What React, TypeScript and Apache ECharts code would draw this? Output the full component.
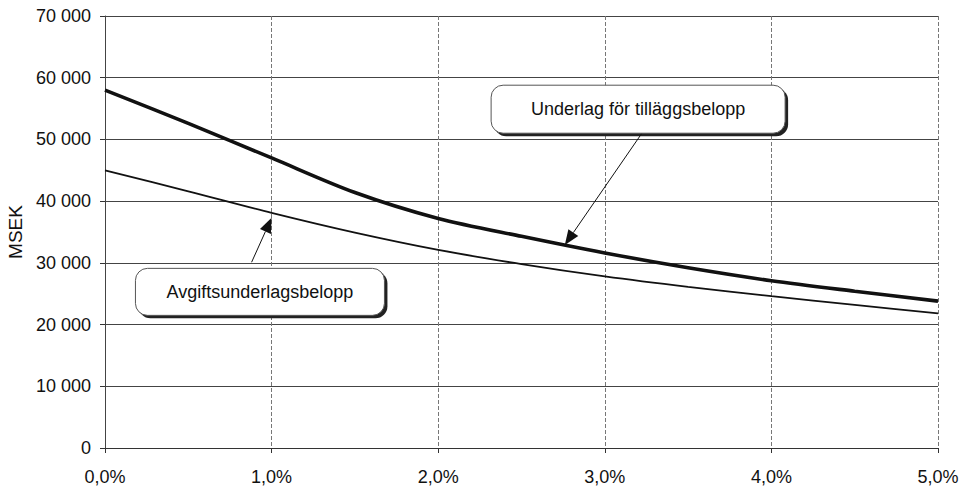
import React, { useEffect, useRef } from 'react';
import * as echarts from 'echarts';

// Interest rate (%) on the x axis
const rates = [0, 0.5, 1, 1.5, 2, 2.5, 3, 3.5, 4, 4.5, 5];
// MSEK
const underlagTillagg = [58000, 52600, 47000, 41400, 37200, 34300, 31600, 29200, 27100, 25400, 23800];
const avgiftsunderlag = [45000, 41600, 38100, 34900, 32100, 29800, 27800, 26100, 24600, 23200, 21800];
const seriesNames = ['Underlag för tilläggsbelopp', 'Avgiftsunderlagsbelopp'];
const yAxisName = 'MSEK';

// Callout anchors in data coordinates: [rate, MSEK]
const calloutLayout = [
  { text: seriesNames[0], box: [3.2, 54900], tail: [3.22, 50900], tip: [2.76, 32900], w: 294, h: 48 },
  { text: seriesNames[1], box: [0.93, 25300], tail: [0.88, 30100], tip: [1.0, 37300], w: 249, h: 47 },
];

const FONT = '"Liberation Sans", Arial, Helvetica, sans-serif';

const fmtY = (v: number) => String(v).replace(/\B(?=(\d{3})+(?!\d))/g, ' ');
const fmtX = (v: number) => v.toFixed(1).replace('.', ',') + '%';

export default function App() {
  const ref = useRef<HTMLDivElement>(null);
  useEffect(() => {
    if (!ref.current) return;
    const chart = echarts.init(ref.current, undefined, { renderer: 'svg' });
    chart.setOption({
      animation: false,
      backgroundColor: '#ffffff',
      grid: { left: 105, right: 28, top: 16, bottom: 42, outerBoundsMode: 'none', containLabel: false },
      xAxis: {
        type: 'value',
        min: 0,
        max: 5,
        interval: 1,
        axisLine: { show: true, onZero: false, lineStyle: { color: '#333', width: 1.2 } },
        axisTick: { show: true, inside: false, length: 5, lineStyle: { color: '#333' } },
        axisLabel: { formatter: fmtX, color: '#111', fontSize: 18, fontFamily: FONT, margin: 20 },
        splitLine: { show: true, lineStyle: { color: '#777', width: 1, type: [4, 2] } },
      },
      yAxis: {
        type: 'value',
        min: 0,
        max: 70000,
        interval: 10000,
        name: yAxisName,
        nameLocation: 'middle',
        nameGap: 78,
        nameRotate: 90,
        nameTextStyle: { color: '#111', fontSize: 19, fontFamily: FONT },
        axisLine: { show: true, lineStyle: { color: '#444', width: 1 } },
        axisTick: { show: true, inside: false, length: 5, lineStyle: { color: '#333' } },
        axisLabel: { formatter: fmtY, color: '#111', fontSize: 18, fontFamily: FONT, margin: 14 },
        splitLine: { show: true, lineStyle: { color: '#444', width: 1.2 } },
      },
      series: [
        {
          name: seriesNames[0],
          type: 'line',
          data: rates.map((r, i) => [r, underlagTillagg[i]]),
          smooth: 0.3,
          showSymbol: false,
          lineStyle: { color: '#111', width: 3.6 },
          z: 5,
        },
        {
          name: seriesNames[1],
          type: 'line',
          data: rates.map((r, i) => [r, avgiftsunderlag[i]]),
          smooth: 0.3,
          showSymbol: false,
          lineStyle: { color: '#111', width: 1.8 },
          z: 5,
        },
      ],
    });

    const px = (p: number[]) => chart.convertToPixel({ gridIndex: 0 }, p) as number[];
    const elements: any[] = [];
    calloutLayout.forEach((c) => {
      const [bx, by] = px(c.box);
      const tip = px(c.tip);
      const tail = px(c.tail);
      const x0 = bx - c.w / 2;
      const y0 = by - c.h / 2;
      elements.push({
        type: 'rect',
        z: 100,
        shape: { x: x0 + 3, y: y0 + 3, width: c.w, height: c.h, r: 12 },
        style: { fill: '#222' },
      });
      elements.push({
        type: 'rect',
        z: 101,
        shape: { x: x0, y: y0, width: c.w, height: c.h, r: 12 },
        style: { fill: '#ffffff', stroke: '#555', lineWidth: 1 },
      });
      elements.push({
        type: 'text',
        z: 102,
        x: bx,
        y: by,
        style: {
          text: c.text,
          fill: '#111',
          fontSize: 18,
          fontFamily: FONT,
          align: 'center',
          verticalAlign: 'middle',
        },
      });
      const dx = tip[0] - tail[0];
      const dy = tip[1] - tail[1];
      const len = Math.sqrt(dx * dx + dy * dy);
      const ux = dx / len;
      const uy = dy / len;
      const headLen = 15;
      const half = 6;
      const bX = tip[0] - ux * headLen;
      const bY = tip[1] - uy * headLen;
      elements.push({
        type: 'line',
        z: 103,
        shape: { x1: tail[0], y1: tail[1], x2: bX, y2: bY },
        style: { stroke: '#111', lineWidth: 1 },
      });
      elements.push({
        type: 'polygon',
        z: 103,
        shape: {
          points: [
            [tip[0], tip[1]],
            [bX - uy * half, bY + ux * half],
            [bX + uy * half, bY - ux * half],
          ],
        },
        style: { fill: '#111' },
      });
    });
    chart.setOption({ graphic: { elements } });

    return () => chart.dispose();
  }, []);
  return (
    <div
      ref={ref}
      style={{ position: 'fixed', left: 0, top: 0, width: 966, height: 490, background: '#fff' }}
    />
  );
}
